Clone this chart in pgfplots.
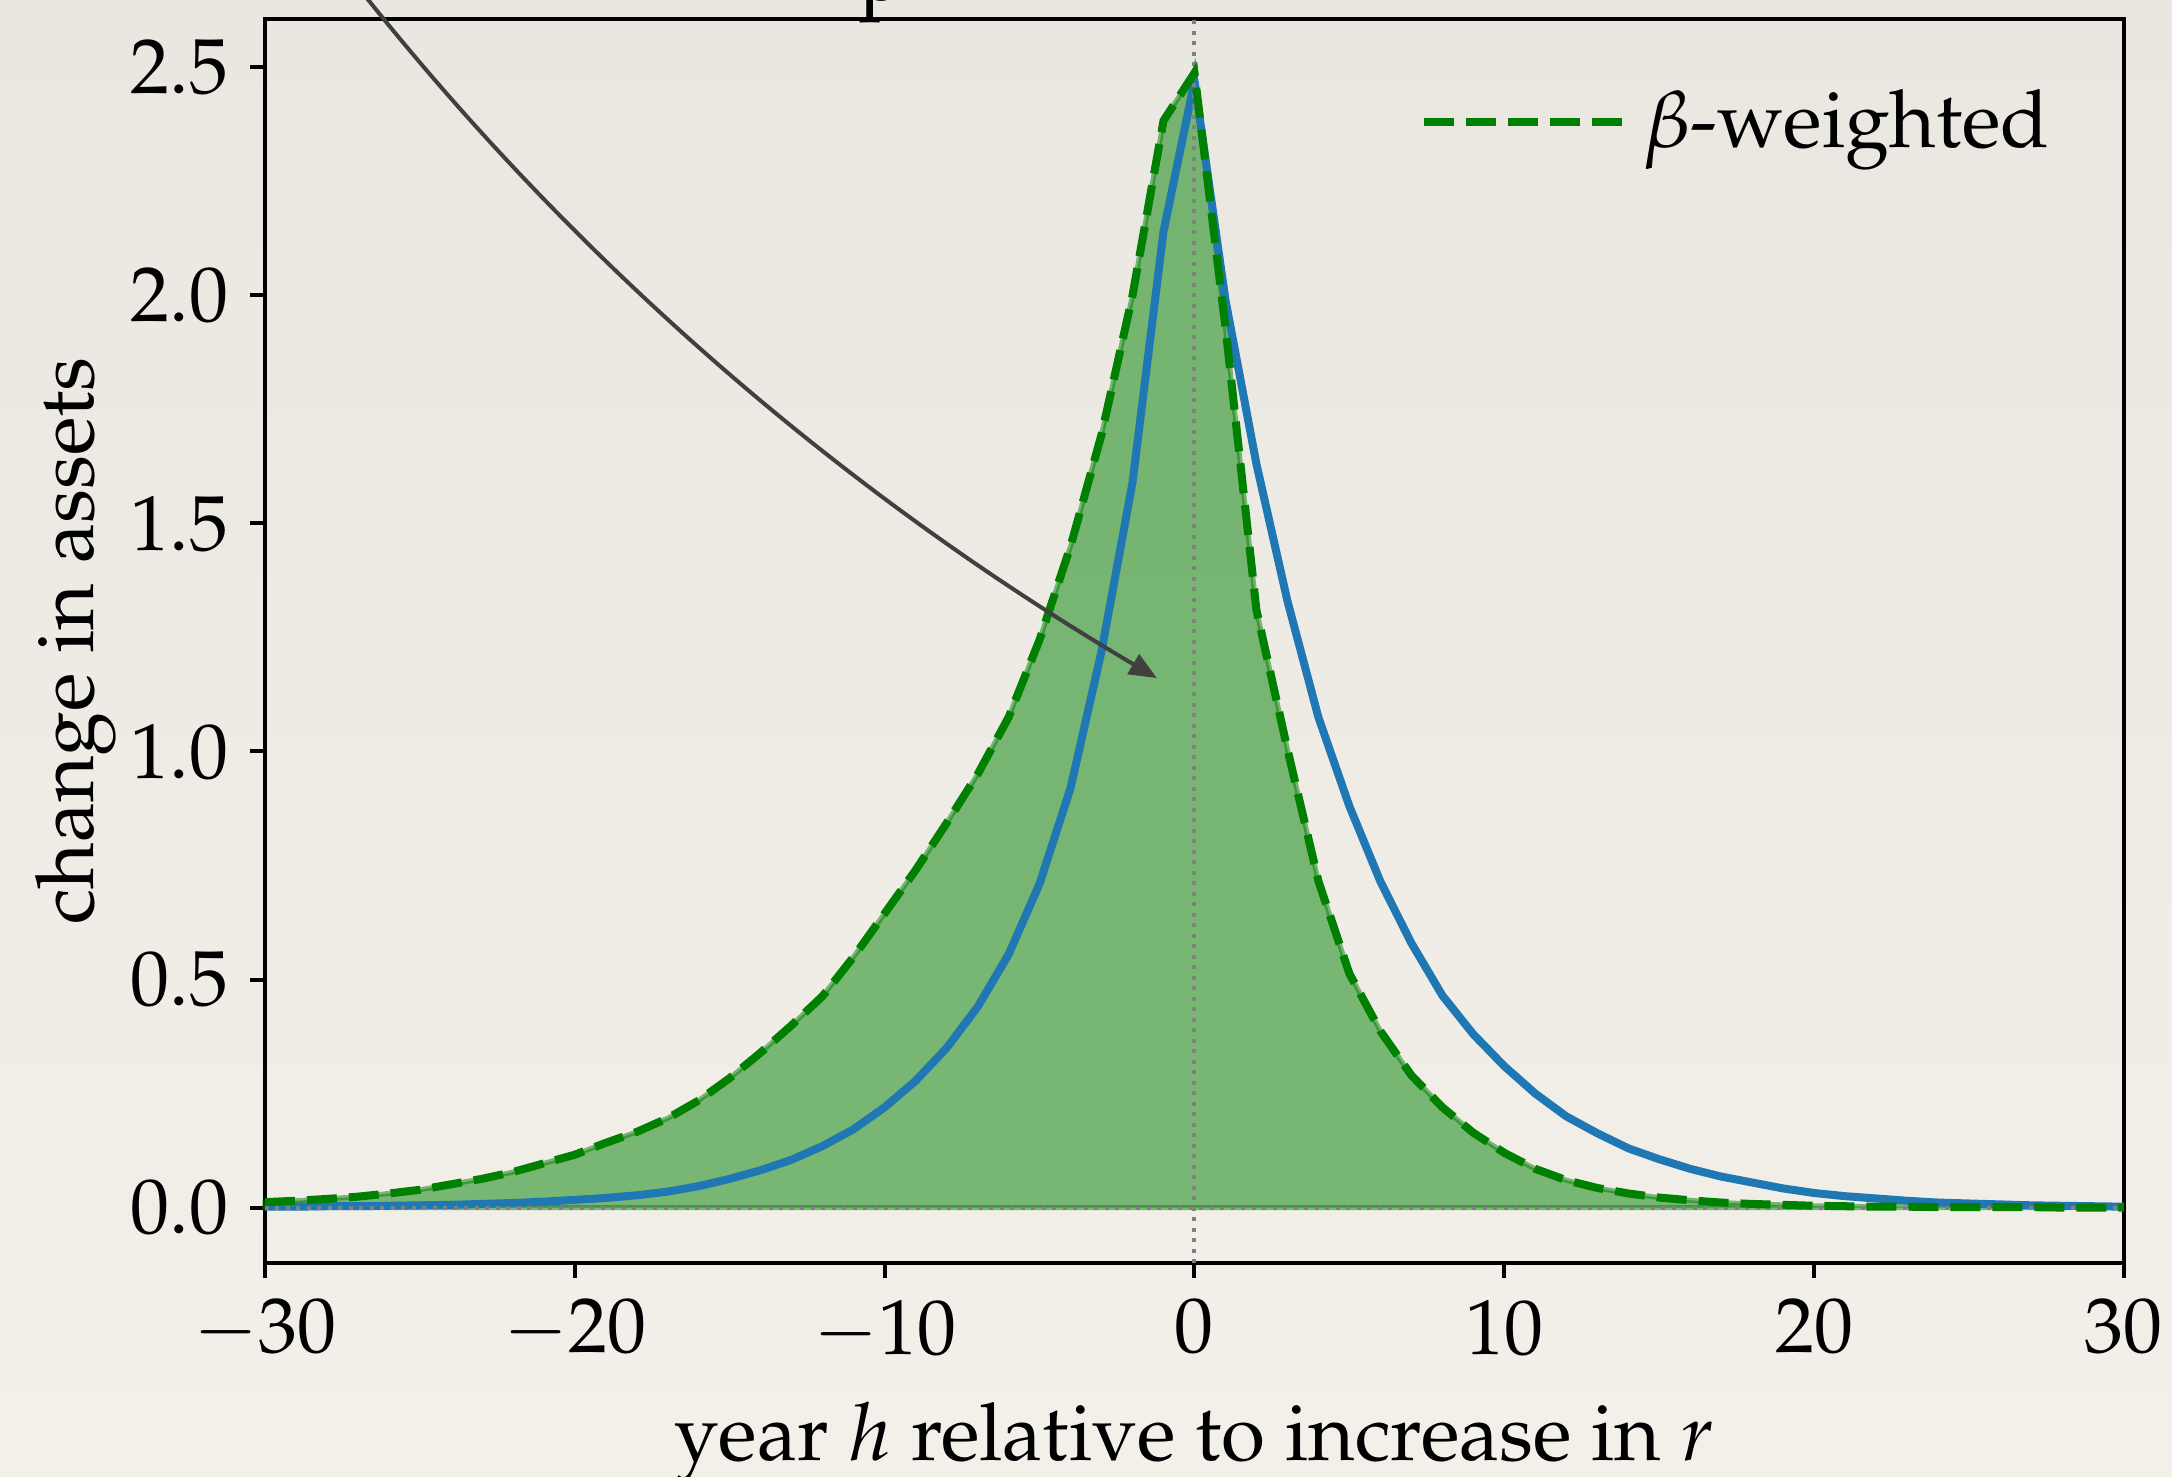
\documentclass[border=0pt]{standalone}
\usepackage[T1]{fontenc}
\usepackage{mathpazo}
\usepackage{pgfplots}
\usepackage{pgfplotstable}
\pgfplotsset{compat=1.18}
\usetikzlibrary{arrows.meta}
\definecolor{bgtop}{RGB}{234,231,225}
\definecolor{bgbot}{RGB}{243,240,234}
\definecolor{mplblue}{HTML}{1F77B4}
\definecolor{mplgreen}{HTML}{008000}
\definecolor{arrowgray}{HTML}{404040}
\definecolor{dotgray}{HTML}{808080}

\pgfplotstableread{
h y
-30 0.012
-29 0.015
-28 0.019
-27 0.024
-26 0.031
-25 0.039
-24 0.051
-23 0.063
-22 0.078
-21 0.097
-20 0.116
-19 0.142
-18 0.166
-17 0.196
-16 0.235
-15 0.284
-14 0.340
-13 0.400
-12 0.464
-11 0.550
-10 0.645
-9 0.740
-8 0.843
-7 0.950
-6 1.075
-5 1.245
-4 1.450
-3 1.695
-2 2.000
-1 2.383
0 2.488
1 1.930
2 1.310
3 1.005
4 0.716
5 0.513
6 0.387
7 0.290
8 0.220
9 0.164
10 0.120
11 0.085
12 0.060
13 0.043
14 0.031
15 0.022
16 0.016
17 0.011
18 0.008
19 0.006
20 0.004
21 0.003
22 0.002
23 0.002
24 0.001
25 0.001
26 0.001
27 0.001
28 0.000
29 0.000
30 0.000
}\greentab

\pgfplotstableread{
h y
-30 0.002
-29 0.002
-28 0.003
-27 0.003
-26 0.004
-25 0.005
-24 0.006
-23 0.008
-22 0.010
-21 0.013
-20 0.017
-19 0.021
-18 0.027
-17 0.035
-16 0.047
-15 0.063
-14 0.082
-13 0.105
-12 0.135
-11 0.172
-10 0.220
-9 0.278
-8 0.350
-7 0.440
-6 0.555
-5 0.710
-4 0.920
-3 1.220
-2 1.590
-1 2.140
0 2.470
1 1.990
2 1.630
3 1.330
4 1.075
5 0.880
6 0.715
7 0.580
8 0.465
9 0.380
10 0.310
11 0.250
12 0.200
13 0.163
14 0.130
15 0.106
16 0.085
17 0.068
18 0.055
19 0.042
20 0.032
21 0.025
22 0.020
23 0.015
24 0.011
25 0.009
26 0.007
27 0.005
28 0.004
29 0.003
30 0.002
}\bluetab

\begin{document}
\begin{tikzpicture}
\path[use as bounding box, top color=bgtop, bottom color=bgbot] (-53pt,-42.6pt) rectangle (381.4pt,252.6pt);
\begin{axis}[
  at={(0,0)}, anchor=south west,
  scale only axis, width=371.8pt, height=248.8pt,
  xmin=-30, xmax=30, ymin=-0.1215, ymax=2.606,
  clip=false,
  axis line style={line width=0.8pt, black},
  tick style={line width=0.8pt, black},
  major tick length=3pt,
  tick align=outside,
  xtick pos=left, ytick pos=left,
  xtick={-30,-20,...,30},
  ytick={0,0.5,...,2.5},
  y tick label style={/pgf/number format/fixed, /pgf/number format/fixed zerofill, /pgf/number format/precision=1},
  ticklabel style={font=\fontsize{15.6}{18}\selectfont},
  xticklabel style={yshift=-0.8pt},
  yticklabel style={xshift=-0.8pt},
  xlabel={year $h$ relative to increase in $r$},
  ylabel={change in assets},
  label style={font=\fontsize{16}{19}\selectfont},
  xlabel style={at={(axis description cs:0.5,-0.159)}, anchor=base},
  ylabel style={at={(axis description cs:-0.092,0.5)}, anchor=base},
  legend style={draw=none, fill=none, at={(axis description cs:0.966,0.917)}, anchor=east,
    inner sep=0pt, font=\fontsize{16}{19}\selectfont, cells={anchor=west}},
  legend image code/.code={
    \draw[mplgreen, line width=1.6pt, dash pattern=on 6pt off 2.4pt] (0pt,0pt) -- (32pt,0pt);
    \path (0pt,0pt) -- (41pt,0pt);
  },
]
% filled area under beta-weighted curve
\addplot[forget plot, draw=mplgreen, draw opacity=0.5, line width=1pt, fill=mplgreen, fill opacity=0.5] table[x=h,y=y] {\greentab} \closedcycle;
% blue solid
\addplot[forget plot, mplblue, line width=1.6pt] table[x=h,y=y] {\bluetab};
% dotted reference lines
\addplot[forget plot, dotgray, line width=0.8pt, dash pattern=on 0.8pt off 1.3pt] coordinates {(-30,0) (30,0)};
\addplot[forget plot, dotgray, line width=0.8pt, dash pattern=on 0.8pt off 1.3pt] coordinates {(0,-0.1215) (0,2.606)};
% beta-weighted dashed
\addplot[mplgreen, line width=1.6pt, dash pattern=on 6pt off 2.4pt] table[x=h,y=y] {\greentab};
\addlegendentry{$\beta$-weighted}
% annotation arrow
\draw[arrowgray, line width=0.8pt, -{Triangle[length=5.5pt,width=4.5pt]}]
  (-27.97,2.759) -- (-26.68,2.649) .. controls (-19.72,2.058) and (-11.23,1.562) .. (-1.213,1.161);
\node[anchor=base west, inner sep=0pt, font=\fontsize{16}{19}\selectfont] at (-10.85,2.646) {p};
\end{axis}
\end{tikzpicture}
\end{document}
